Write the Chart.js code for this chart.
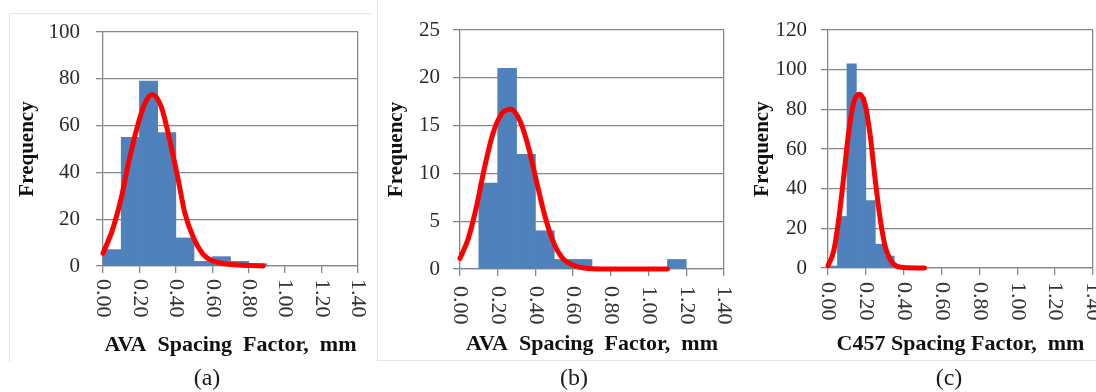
<!DOCTYPE html>
<html>
<head>
<meta charset="utf-8">
<script src="https://cdn.jsdelivr.net/npm/chart.js@4.4.0/dist/chart.umd.min.js"></script>
<style>
  html, body { margin: 0; padding: 0; background: #fff; }
  body { width: 1096px; height: 392px; position: relative; overflow: hidden; }
  .panel { position: absolute; top: 0; height: 392px; }
  .panel canvas { display: block; }
  .frame { position: absolute; border: 0 solid #e4e4e4; }
</style>
</head>
<body>
<div class="frame" style="left:9px;top:13px;width:361px;height:348px;border-left-width:1px;border-top-width:1px;"></div>
<div class="frame" style="left:377px;top:0;width:363px;height:360px;border-left-width:1px;border-bottom-width:1px;"></div>
<div class="frame" style="left:740px;top:0;width:356px;height:360px;border-bottom-width:1px;"></div>

<div class="panel" style="left:0;width:370px"><canvas id="chartA" width="370" height="392"></canvas></div>
<div class="panel" style="left:370px;width:370px"><canvas id="chartB" width="370" height="392"></canvas></div>
<div class="panel" style="left:740px;width:356px"><canvas id="chartC" width="356" height="392"></canvas></div>

<script>
// shared x tick labels (spacing factor, mm)
const xTickLabels = ['0.00', '0.20', '0.40', '0.60', '0.80', '1.00', '1.20', '1.40'];

// (a) AVA - bins of 0.1 mm (centres) and counts
const binsA = [0.05, 0.15, 0.25, 0.35, 0.45, 0.55, 0.65, 0.75, 0.85];
const freqA = [7, 55, 79, 57, 12, 2, 4, 2, 1];
// fitted curve
const fitXA = [0, 0.05, 0.10, 0.14, 0.19, 0.23, 0.27, 0.32, 0.36, 0.41, 0.45, 0.50, 0.55, 0.60, 0.66, 0.72, 0.80, 0.88];
const fitYA = [5.5, 15, 29, 44, 60, 69.5, 73.3, 68, 56, 38, 22.5, 11.5, 5, 2.2, 1.1, 0.5, 0.2, 0];

// (b) AVA, second set
const binsB = [0.05, 0.15, 0.25, 0.35, 0.45, 0.55, 0.65, 0.75, 0.85, 0.95, 1.05, 1.15];
const freqB = [0, 9, 21, 12, 4, 1, 1, 0, 0, 0, 0, 1];
const fitXB = [0, 0.044, 0.087, 0.13, 0.175, 0.22, 0.27, 0.32, 0.365, 0.41, 0.455, 0.50, 0.55, 0.60, 0.66, 0.75, 1.10];
const fitYB = [1.1, 3.2, 6.5, 10.6, 14.2, 16.2, 16.7, 15.4, 12.6, 8.8, 5.2, 2.6, 1.0, 0.4, 0.1, 0, 0];

// (c) C457 - bins of 0.05 mm
const binsC = [0.025, 0.075, 0.125, 0.175, 0.225, 0.275, 0.325, 0.375];
const freqC = [1, 26, 103, 86, 34, 12, 6, 1];
const fitXC = [0, 0.03, 0.056, 0.083, 0.11, 0.136, 0.167, 0.197, 0.224, 0.25, 0.277, 0.303, 0.33, 0.365, 0.42, 0.51];
const fitYC = [1.2, 8.5, 24, 46, 69, 83.5, 87.6, 82, 66, 44, 24, 10.5, 4, 0.8, 0.1, 0];

const serif = '"Liberation Serif", "Times New Roman", serif';
const gridGray = '#878787';

// rotated x labels (top-to-bottom) and the (a)/(b)/(c) caption
const panelText = {
    id: 'panelText',
    afterDraw(chart, args, opts) {
        const ctx = chart.ctx;
        const xs = chart.scales.x;
        ctx.save();
        ctx.font = '22px ' + serif;
        ctx.fillStyle = '#333';
        ctx.textAlign = 'left';
        ctx.textBaseline = 'middle';
        xTickLabels.forEach(label => {
            const px = xs.getPixelForValue(parseFloat(label));
            ctx.save();
            ctx.translate(px, chart.chartArea.bottom + opts.labelGap);
            ctx.rotate(Math.PI / 2);
            ctx.fillText(label, 0, 0);
            ctx.restore();
        });
        ctx.font = '24px ' + serif;
        ctx.fillStyle = '#1a1a1a';
        ctx.textAlign = 'center';
        ctx.fillText(opts.caption, opts.captionX, 379);
        ctx.restore();
    }
};

function makeHistogram(canvasId, p) {
    const ctx = document.getElementById(canvasId).getContext('2d');
    return new Chart(ctx, {
        type: 'bar',
        data: {
            datasets: [
                {
                    type: 'line',
                    data: p.fitX.map((x, i) => ({ x: x, y: p.fitY[i] })),
                    borderColor: '#ff0000',
                    borderWidth: 5,
                    borderCapStyle: 'round',
                    pointRadius: 0,
                    cubicInterpolationMode: 'monotone',
                    clip: 6,
                    order: 1
                },
                {
                    type: 'bar',
                    data: p.bins.map((x, i) => ({ x: x, y: p.freq[i] })),
                    backgroundColor: '#4f81bd',
                    borderWidth: 0,
                    barPercentage: 1,
                    categoryPercentage: 1,
                    order: 2
                }
            ]
        },
        options: {
            responsive: false,
            animation: false,
            layout: { padding: { left: 0, right: p.padRight, top: p.padTop, bottom: p.padBottom } },
            plugins: {
                legend: { display: false },
                tooltip: { enabled: false },
                panelText: { caption: p.caption, captionX: p.captionX, labelGap: p.labelGap }
            },
            scales: {
                x: {
                    type: 'linear',
                    min: 0,
                    max: 1.4,
                    offset: false,
                    ticks: { display: false, stepSize: 0.2 },
                    grid: {
                        offset: false,
                        lineWidth: 1.3,
                        tickLength: 7,
                        tickColor: gridGray,
                        // only the right frame line, no vertical grid
                        color: c => (c.tick && c.tick.value > 1.39) ? gridGray : 'rgba(0,0,0,0)'
                    },
                    border: { color: gridGray, width: 1.3 },
                    title: {
                        display: true,
                        text: p.xTitle,
                        color: '#111',
                        font: { family: serif, size: 22, weight: 'bold' },
                        padding: 0
                    },
                    afterFit: s => { s.height = p.xAxisHeight; }
                },
                y: {
                    min: 0,
                    max: p.yMax,
                    ticks: {
                        stepSize: p.yStep,
                        padding: p.yTickPad,
                        color: '#2a2a2a',
                        font: { family: serif, size: 21 }
                    },
                    grid: { color: gridGray, lineWidth: 1.3, tickLength: 7, tickColor: gridGray },
                    border: { color: gridGray, width: 1.3 },
                    title: {
                        display: true,
                        text: 'Frequency',
                        color: '#111',
                        font: { family: serif, size: 21, weight: 'bold' },
                        padding: { top: p.yTitlePad, bottom: 0 }
                    },
                    afterFit: s => { s.width = p.yAxisWidth; }
                }
            }
        },
        plugins: [panelText]
    });
}

makeHistogram('chartA', {
    bins: binsA, freq: freqA, fitX: fitXA, fitY: fitYA,
    yMax: 100, yStep: 20, xTitle: 'AVA  Spacing  Factor,  mm', caption: '(a)',
    yAxisWidth: 103, padRight: 12, padTop: 32, padBottom: 33, xAxisHeight: 93,
    yTickPad: 16, yTitlePad: 15, captionX: 207, labelGap: 13
});

makeHistogram('chartB', {
    bins: binsB, freq: freqB, fitX: fitXB, fitY: fitYB,
    yMax: 25, yStep: 5, xTitle: 'AVA  Spacing  Factor,  mm', caption: '(b)',
    yAxisWidth: 90, padRight: 16, padTop: 30, padBottom: 34, xAxisHeight: 89,
    yTickPad: 13, yTitlePad: 14, captionX: 204, labelGap: 17
});

makeHistogram('chartC', {
    bins: binsC, freq: freqC, fitX: fitXC, fitY: fitYC,
    yMax: 120, yStep: 20, xTitle: 'C457 Spacing Factor,  mm', caption: '(c)',
    yAxisWidth: 88, padRight: 3, padTop: 30, padBottom: 34, xAxisHeight: 90,
    yTickPad: 14, yTitlePad: 10, captionX: 209, labelGap: 14
});
</script>
</body>
</html>
